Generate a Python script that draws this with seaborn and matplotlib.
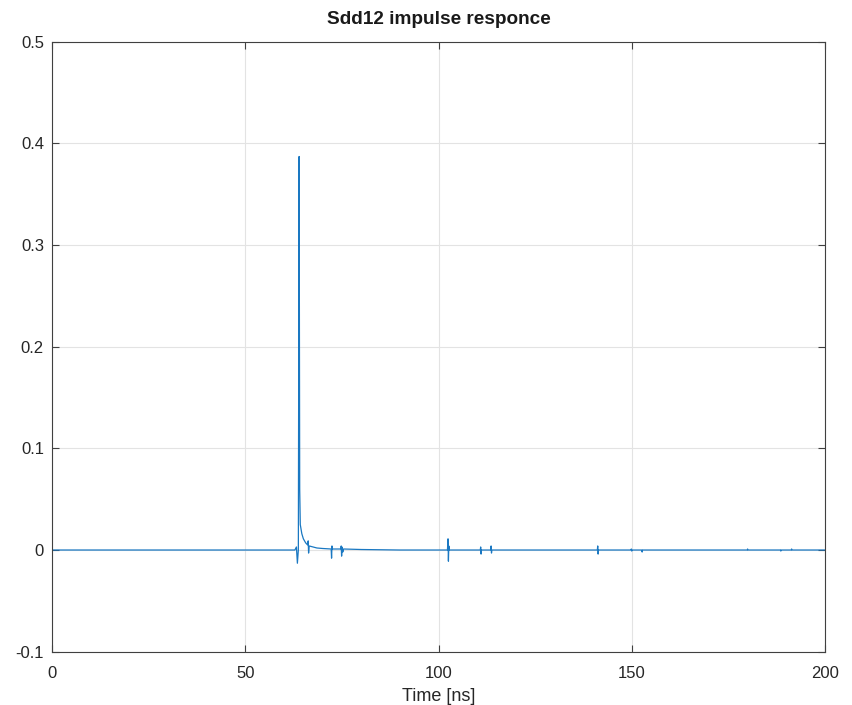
import numpy as np
import pandas as pd
import matplotlib
matplotlib.use("Agg")
import matplotlib.pyplot as plt
import seaborn as sns

# impulse response samples (time in ns, amplitude)
t_ns = [0, 62.8, 63.2, 63.45, 63.7, 63.9, 64.05, 64.2, 64.6, 65.0, 65.6, 66.1,
        66.25, 66.35, 66.5, 67.5, 68.5, 70.0, 72.2, 72.3, 72.4, 72.5,
        74.7, 74.8, 74.9, 75.0, 75.2, 75.4, 80.0, 90.0,
        102.3, 102.45, 102.55, 102.65, 102.8,
        110.8, 110.9, 111.0, 111.1, 113.5, 113.6, 113.7, 113.8,
        141.1, 141.2, 141.3, 141.4, 149.8, 149.9, 150.0, 150.1,
        152.6, 152.7, 152.8, 179.9, 180.0, 180.1,
        188.5, 188.6, 188.7, 191.3, 191.4, 191.5, 200]
sdd12 = [0, 0, 0.003, -0.013, 0.0, 0.387, 0.06, 0.025, 0.016, 0.011, 0.007, 0.005,
         0.009, -0.003, 0.004, 0.003, 0.002, 0.0015, 0.001, -0.008, 0.004, 0.001,
         0.001, 0.004, -0.006, 0.003, -0.002, 0.001, 0.0005, 0,
         0, 0.011, -0.011, 0.004, 0,
         0, 0.003, -0.004, 0, 0, 0.004, -0.003, 0,
         0, 0.004, -0.004, 0, 0, 0.001, -0.001, 0,
         0, -0.002, 0, 0, 0.001, 0,
         0, -0.001, 0, 0, 0.001, 0, 0]

x_ticks = [0, 50, 100, 150, 200]
y_ticks = [-0.1, 0, 0.1, 0.2, 0.3, 0.4, 0.5]
y_tick_labels = ["-0.1", "0", "0.1", "0.2", "0.3", "0.4", "0.5"]

df = pd.DataFrame({"t": t_ns, "h": sdd12})

sns.set_theme(style="whitegrid")
plt.rcParams['font.family'] = ['Liberation Sans', 'DejaVu Sans']

fig = plt.figure(figsize=(8.53, 7.05), dpi=100, facecolor='w')
ax = fig.add_subplot(111)
fig.subplots_adjust(left=0.0613, right=0.967, bottom=0.0756, top=0.941)

sns.lineplot(data=df, x="t", y="h", ax=ax, color="#1a78c2", linewidth=0.9,
             estimator=None, sort=False)

ax.set_xlim(0, 200)
ax.set_ylim(-0.1, 0.5)
ax.set_xticks(x_ticks)
ax.set_xticklabels([str(v) for v in x_ticks])
ax.set_yticks(y_ticks)
ax.set_yticklabels(y_tick_labels)

ax.grid(True, color="#e3e3e3", linewidth=0.8)
for s in ax.spines.values():
    s.set_visible(True)
    s.set_color("#404040")
    s.set_linewidth(0.8)
ax.tick_params(direction='in', length=5, width=0.8, color="#404040",
               top=True, right=True, bottom=True, left=True,
               labelsize=12, labelcolor="#262626")
ax.tick_params(axis='x', pad=10)
ax.tick_params(axis='y', pad=6)

ax.set_xlabel("Time [ns]", fontsize=13, color="#262626", labelpad=5)
ax.set_ylabel("")
ax.set_title("Sdd12 impulse responce", fontsize=13.7, fontweight='bold',
             color="#1a1a1a", pad=12.5)

fig.savefig("out.png", dpi=100, facecolor='w')
